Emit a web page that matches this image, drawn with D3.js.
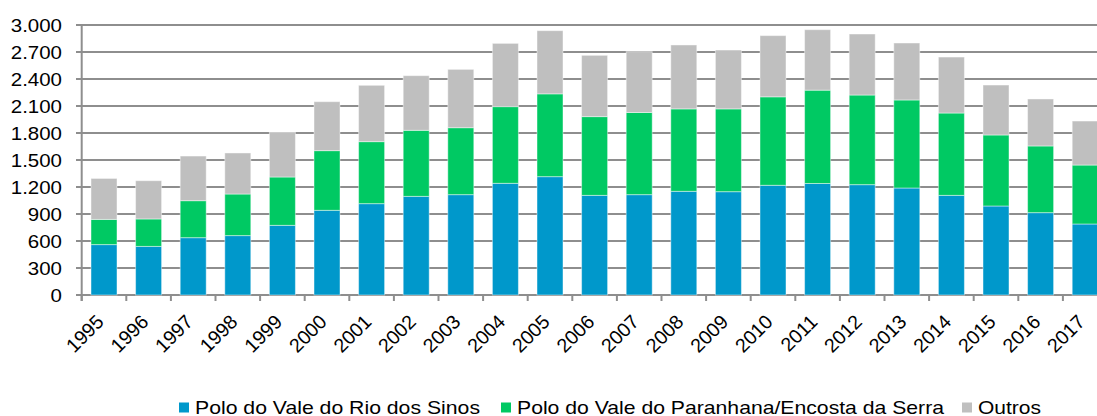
<!DOCTYPE html>
<html><head><meta charset="utf-8">
<script src="https://cdn.jsdelivr.net/npm/d3@7"></script>
<style>body{margin:0;background:#fff}svg{display:block}text{font-family:"Liberation Sans",Arial,sans-serif;fill:#000}</style>
</head><body>
<svg id="c" width="1097" height="416"></svg>
<script>
const years = ["1995","1996","1997","1998","1999","2000","2001","2002","2003","2004","2005","2006","2007","2008","2009","2010","2011","2012","2013","2014","2015","2016","2017"];
const sinos = [560,540,637,660,774,941,1015,1096,1115,1241,1315,1107,1115,1152,1148,1219,1239,1226,1189,1107,989,915,789];
const paranhana = [280,305,411,462,537,663,689,734,744,852,920,875,913,916,920,983,1037,996,978,915,789,741,655];
const outros = [455,425,496,456,500,544,626,607,648,703,702,681,676,710,654,680,672,678,633,622,555,522,489];
const yTicks = [0,300,600,900,1200,1500,1800,2100,2400,2700,3000];
const seriesNames = ["Polo do Vale do Rio dos Sinos","Polo do Vale do Paranhana/Encosta da Serra","Outros"];
const colors = ["#0098CB","#00C963","#BFBFBF"];

const svg = d3.select("#c");
const x0 = 81.7, step = 44.6;
const x = d3.scaleBand().domain(years).range([x0, x0 + step*years.length]).paddingInner(0.417).paddingOuter(0.2085);
const y = d3.scaleLinear().domain([0,3000]).range([295,25]);
const FS = "18.6px", SX = 1.1;

// gridlines
svg.append("g").selectAll("line").data(yTicks).join("line")
  .attr("x1",76).attr("x2",1097).attr("y1",d=>y(d)).attr("y2",d=>y(d))
  .attr("stroke","#8E8E8E").attr("stroke-width",2);
// y axis line
svg.append("line").attr("x1",x0).attr("x2",x0).attr("y1",y(3000)).attr("y2",301).attr("stroke","#8E8E8E").attr("stroke-width",2);
// y labels
const fmt = d => d3.format(",")(d).replace(/,/g,".");
svg.append("g").selectAll("text").data(yTicks).join("text")
  .attr("transform",d=>`translate(62,${y(d)}) scale(${SX},1)`)
  .attr("dy","0.36em").attr("text-anchor","end")
  .attr("font-size",FS).text(fmt);

// stacked data
const data = years.map((yr,i)=>({year:yr, s0:sinos[i], s1:paranhana[i], s2:outros[i]}));
const stack = d3.stack().keys(["s0","s1","s2"])(data);
svg.append("g").selectAll("g").data(stack).join("g").attr("fill",(d,i)=>colors[i])
  .selectAll("rect").data(d=>d).join("rect")
  .attr("x",d=>x(d.data.year)).attr("width",x.bandwidth())
  .attr("y",d=>y(d[1])).attr("height",d=>y(d[0])-y(d[1]))
  .attr("stroke","#ffffff").attr("stroke-opacity",0.45).attr("stroke-width",1);

// x axis ticks at band boundaries
const bounds = d3.range(years.length+1).map(i=>x0+i*step);
svg.append("g").selectAll("line").data(bounds).join("line")
  .attr("x1",d=>d).attr("x2",d=>d).attr("y1",295).attr("y2",301)
  .attr("stroke","#8E8E8E").attr("stroke-width",2);
// x labels
svg.append("g").selectAll("text").data(years).join("text")
  .attr("text-anchor","end").attr("font-size","19.6px")
  .attr("transform",d=>`translate(${x(d)+x.bandwidth()/2+1},323) rotate(-45)`)
  .text(d=>d);

// legend
const legX = [179, 501, 962];
const legW = [285, 427, 63];
const lg = svg.append("g");
seriesNames.forEach((n,i)=>{
  lg.append("rect").attr("x",legX[i]).attr("y",402.5).attr("width",10).attr("height",10).attr("fill",colors[i]);
  lg.append("text").attr("x",legX[i]+16).attr("y",413.5).attr("font-size",FS)
    .attr("textLength",legW[i]).attr("lengthAdjust","spacingAndGlyphs").text(n);
});
</script>
</body></html>
